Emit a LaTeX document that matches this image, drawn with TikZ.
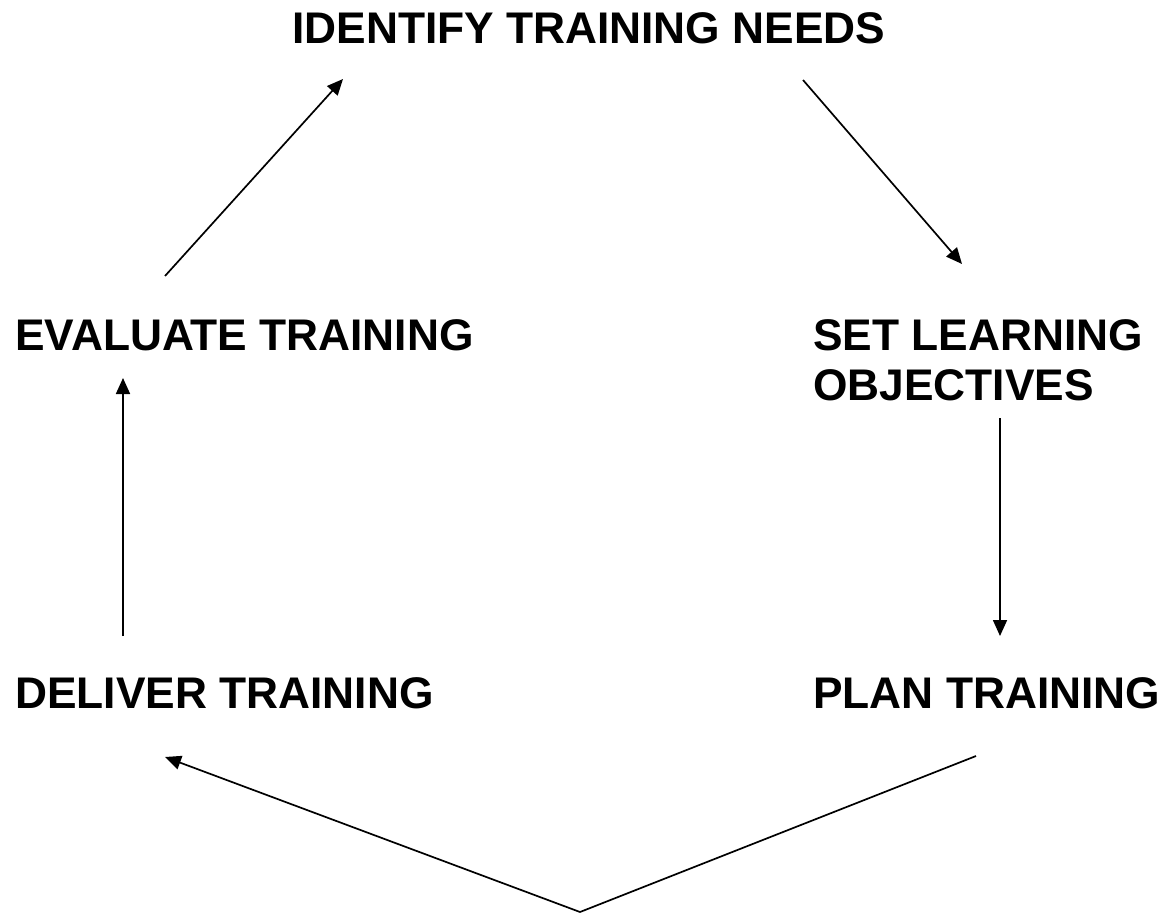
\documentclass[tikz,border=0pt]{standalone}
\usepackage{fontspec}
\setmainfont{Liberation Sans}
\usetikzlibrary{arrows.meta}
\begin{document}
\begin{tikzpicture}[x=1pt,y=-1pt,
  stage/.style={font=\bfseries\fontsize{44.3}{50}\selectfont, inner sep=0pt,
    anchor=base west, align=left},
  flow/.style={line width=1.7pt, -{Triangle[length=16pt,width=14pt]}}]
  \useasboundingbox[fill=white] (0,0) rectangle (1161,917);

  % the five stages of the training cycle
  \node[stage] (identify)   at (292,44)  {IDENTIFY TRAINING NEEDS};
  \node[stage] (evaluate)   at (15,350)  {EVALUATE TRAINING};
  % a multi-line node sits on the baseline of its last line
  \node[stage] (objectives) at (813,400) {SET LEARNING\\OBJECTIVES};
  \node[stage] (deliver)    at (15,708)  {DELIVER TRAINING};
  \node[stage] (plan)       at (813,708) {PLAN TRAINING};

  % arrow ends placed in the gaps between the stages
  \coordinate (evalOut)  at (165,276);
  \coordinate (identIn)  at (343,79);
  \coordinate (identOut) at (803,80);
  \coordinate (objIn)    at (962,264);
  \coordinate (objOut)   at (1000,418);
  \coordinate (planIn)   at (1000,636);
  \coordinate (planOut)  at (976,756);
  \coordinate (bend)     at (580,912);
  \coordinate (delIn)    at (165,757);
  \coordinate (delOut)   at (123,636);
  \coordinate (evalIn)   at (123,378);

  \draw[flow] (evalOut) -- (identIn);
  \draw[flow] (identOut) -- (objIn);
  \draw[flow] (objOut) -- (planIn);
  \draw[flow] (planOut) -- (bend) -- (delIn);
  \draw[flow] (delOut) -- (evalIn);
\end{tikzpicture}
\end{document}
